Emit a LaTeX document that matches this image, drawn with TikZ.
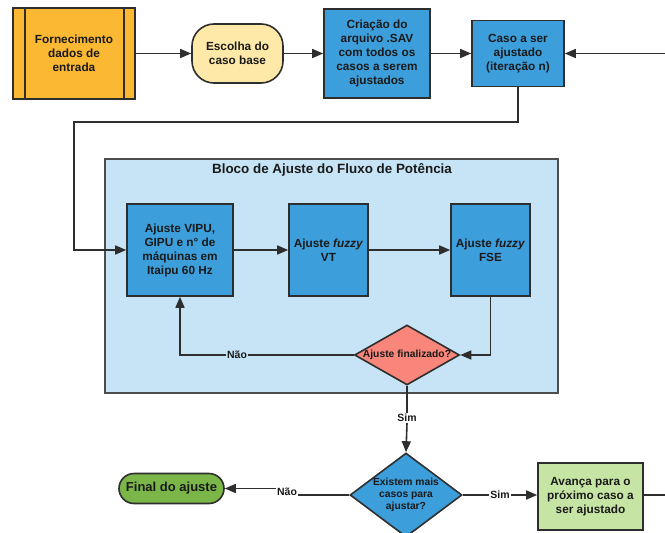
\documentclass[tikz,border=0pt]{standalone}
\usepackage{fontspec}
\setmainfont{Liberation Sans}
\usetikzlibrary{arrows.meta,shapes.geometric}
\definecolor{cOrange}{HTML}{FBB833}
\definecolor{cYellow}{HTML}{FFE9A8}
\definecolor{cBlue}{HTML}{3C9FDC}
\definecolor{cBlock}{HTML}{C6E4F6}
\definecolor{cSalmon}{HTML}{F8867A}
\definecolor{cGreen}{HTML}{7AB648}
\definecolor{cLightGreen}{HTML}{C6E5A4}
\definecolor{cBorder}{HTML}{2E2E2E}
\definecolor{cText}{HTML}{1A1A1A}
\tikzset{
  base/.style={draw=cBorder, line width=1.6pt, text=cText, align=center,
    font=\fontsize{11.8}{14}\selectfont\bfseries, inner sep=0pt},
  procbox/.style={base, rectangle, fill=cBlue},
  decbox/.style={draw=cBorder, line width=1.6pt, diamond, inner sep=0pt},
  dectext/.style={text=cText, align=center, font=\fontsize{10.3}{12}\selectfont\bfseries, inner sep=0pt},
  conn/.style={draw=cBorder, line width=1.6pt},
  arr/.style={conn, -{Triangle[length=11pt,width=9pt]}},
  lbl/.style={text=cText, font=\fontsize{10.5}{12}\selectfont\bfseries, inner sep=1pt},
}
\begin{document}
\begin{tikzpicture}[x=1pt,y=-1pt]
\useasboundingbox (0,0) rectangle (665,533);
\begin{scope}
\clip (0,0) rectangle (665,533);

% block background
\node[draw=cBorder!85, line width=1.6pt, fill=cBlock, minimum width=453pt, minimum height=234pt, inner sep=0pt] (block) at (331.5,276) {};
\node[text=cText, font=\fontsize{13.4}{15}\selectfont\bfseries, inner sep=0pt] (title) at (332,170) {Bloco de Ajuste do Fluxo de Potência};

% top row
\node[base, fill=cOrange, minimum width=122pt, minimum height=91pt] (forn) at (74,53.5) {Fornecimento\\dados de\\entrada};
\draw[conn] ([xshift=13pt]forn.north west) -- ([xshift=13pt]forn.south west);
\draw[conn] ([xshift=-12pt]forn.north east) -- ([xshift=-12pt]forn.south east);
\node[base, fill=cYellow, minimum width=91pt, minimum height=59pt, rounded corners=22pt] (esc) at (237.5,53.5) {Escolha do\\caso base};
\node[procbox, minimum width=106pt, minimum height=89pt] (cria) at (377,53.5) {Criação do\\arquivo .SAV\\com todos os\\casos a serem\\ajustados};
\node[procbox, minimum width=92pt, minimum height=66pt] (caso) at (518,53.5) {Caso a ser\\ajustado\\(iteração n)};
\coordinate (rin) at (667,53.5);

\draw[arr] (forn) -- (esc);
\draw[arr] (esc) -- (cria);
\draw[arr] (cria) -- (caso);
\draw[arr] (rin) -- (caso);

% inner block
\node[procbox, minimum width=106pt, minimum height=92pt] (vipu) at (180,250) {Ajuste VIPU,\\GIPU e n° de\\máquinas em\\Itaipu 60 Hz};
\node[procbox, minimum width=79pt, minimum height=92pt] (vt) at (328.5,250) {Ajuste \textit{fuzzy}\\VT};
\node[procbox, minimum width=79pt, minimum height=92pt] (fse) at (490.5,250) {Ajuste \textit{fuzzy}\\FSE};
\node[decbox, fill=cSalmon, minimum width=105pt, minimum height=60pt] (d1) at (407,355) {};
\node[dectext] (d1t) at (d1.center) {Ajuste finalizado?};

\coordinate (c1) at (518,122);
\coordinate (c2) at (74,122);
\coordinate (c3) at (74,250);
\draw[arr] (caso.south) -- (c1) -- (c2) -- (c3) -- (vipu.west);
\draw[arr] (vipu) -- (vt);
\draw[arr] (vt) -- (fse);
\coordinate (c4) at (fse.south |- d1.east);
\draw[arr] (fse.south) -- (c4) -- (d1.east);
\node[lbl, fill=cBlock] (nao1) at (237,355) {Não};
\coordinate (c5) at (vipu.south |- d1.west);
\draw[conn] (d1.west) -- (nao1.east);
\draw[arr] (nao1.west) -- (c5) -- (vipu.south);
\end{scope}

% bottom
\node[decbox, fill=cBlue, minimum width=112pt, minimum height=84pt] (d2) at (406,495) {};
\node[dectext] (d2t) at (d2.center) {Existem mais\\casos para\\ajustar?};
\node[lbl, fill=white] (sim1) at (407,418) {Sim};
\draw[conn] (d1.south) -- (sim1.north);
\draw[arr] (sim1.south) -- (d2.north);

\node[base, fill=cGreen, minimum width=105pt, minimum height=30pt, rounded corners=15pt, font=\fontsize{13}{15}\selectfont\bfseries] (final) at (171.5,488.5) {Final do ajuste};
\node[lbl] (nao2) at (287,492) {Não};
\draw[conn] (d2.west) -- (nao2.east |- d2.west);
\draw[arr] (nao2.west |- final.east) -- (final.east);

\node[base, fill=cLightGreen, minimum width=105pt, minimum height=67pt] (avan) at (590.5,496.5) {Avança para o\\próximo caso a\\ser ajustado};
\node[lbl] (sim2) at (500,495) {Sim};
\draw[conn] (d2.east) -- (sim2.west);
\draw[arr] (sim2.east) -- (avan.west |- sim2.east);
\coordinate (rout) at (667,495);
\draw[conn] (avan.east |- rout) -- (rout);
\end{tikzpicture}
\end{document}
